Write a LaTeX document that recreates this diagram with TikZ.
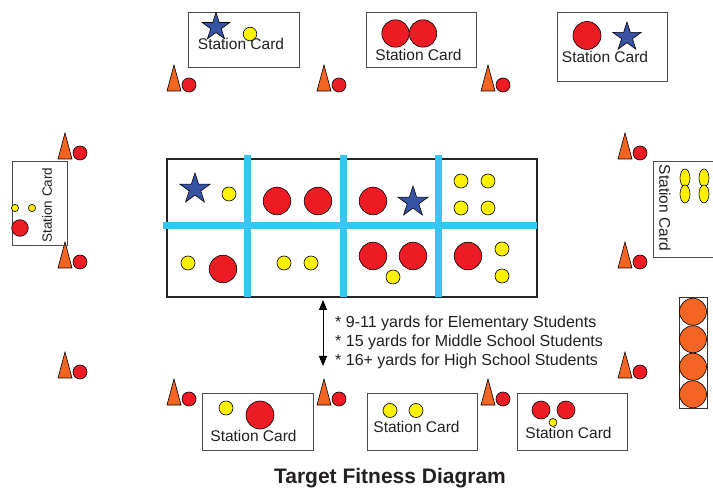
\documentclass[tikz,border=0pt]{standalone}
\usepackage{fontspec}
\setmainfont{Liberation Sans}
\usetikzlibrary{shapes.geometric,arrows.meta}
\definecolor{cred}{RGB}{237,28,36}
\definecolor{cyel}{RGB}{255,242,0}
\definecolor{corange}{RGB}{242,101,34}
\definecolor{cstar}{RGB}{57,83,164}
\definecolor{cblue}{RGB}{53,198,244}
\definecolor{ctext}{RGB}{35,31,32}
\tikzset{
  redc/.style={draw=black, line width=0.6pt, fill=cred},
  yelc/.style={draw=black, line width=0.6pt, fill=cyel},
  orc/.style={draw=black, line width=0.6pt, fill=corange},
  starnode/.style={star, star points=5, star point ratio=2.618, draw=black, line width=0.6pt, fill=cstar, inner sep=0pt},
  card/.style={draw=black!70, line width=1pt},
  field/.style={draw=black!85, line width=1.2pt},
  lane/.style={draw=cblue, line width=7pt},
  lbl/.style={font=\fontsize{15.5}{18}\selectfont, text=ctext, inner sep=0pt},
  note/.style={lbl, font=\fontsize{16}{18}\selectfont, anchor=base west},
  cone/.pic={\draw[orc] (-7,0) -- (7,0) -- (0,-26) -- cycle;
             \draw[redc] (15,-6) circle[radius=7pt];}
}
\begin{document}
\begin{tikzpicture}[x=1pt,y=-1pt]
\useasboundingbox[fill=white] (0,0) rectangle (713,489);

% ---- cones with red markers
\foreach \cx/\cy in {174/91,324/91,488/91,65/159,65/268,625/159,625/268,65/378,625/378,174/405,324/405,488/405}
  \pic at (\cx,\cy) {cone};

% ---- top station cards
\draw[card] (188,13) rectangle (299,68);
\node[starnode, minimum size=29pt] (s1) at (216,27) {};
\draw[yelc] (250,34) circle[radius=6.8pt];
\node[lbl, anchor=base] (t1) at (241,50) {Station Card};

\draw[card] (366,13) rectangle (476,68);
\draw[redc] (395.5,33.5) circle[radius=13.7pt];
\draw[redc] (423,33.5) circle[radius=13.7pt];
\node[lbl, anchor=base] (t2) at (418.5,61) {Station Card};

\draw[card] (557,13) rectangle (667,82);
\draw[redc] (587,35.5) circle[radius=14pt];
\node[starnode, minimum size=30pt] (s2) at (627,37) {};
\node[lbl, anchor=base] (t3) at (605,63) {Station Card};

% ---- left card
\draw[card] (12,162) rectangle (67,246);
\draw[yelc] (15,208) circle[radius=3.6pt];
\draw[yelc] (32,208) circle[radius=3.6pt];
\draw[redc] (20,228) circle[radius=8.3pt];
\node[lbl, font=\fontsize{13.5}{16}\selectfont, rotate=90] (t4) at (47,205) {Station Card};

% ---- right card
\draw[card] (653,162) rectangle (716,258);
\foreach \ex in {685,704}{
  \draw[yelc] (\ex,178) ellipse[x radius=5pt, y radius=9pt];
  \draw[yelc] (\ex,194) ellipse[x radius=5pt, y radius=9pt];
}
\node[lbl, rotate=-90] (t5) at (665,208) {Station Card};

% ---- orange ball stack
\draw[card, draw=black!80] (679,298) rectangle (707,408);
\foreach \oy in {311.75,339.25,366.75,394.25}
  \draw[orc] (693,\oy) circle[radius=13.5pt];

% ---- main field
\draw[field] (167,159) rectangle (537,297);
\draw[lane] (163,226) -- (537,226);
\foreach \lx in {247,343,438}
  \draw[lane] (\lx,155) -- (\lx,297);

% row 1
\node[starnode, minimum size=32pt] (s3) at (195,189) {};
\draw[yelc] (229,194) circle[radius=7pt];
\draw[redc] (277,201) circle[radius=13.8pt];
\draw[redc] (318,201) circle[radius=13.8pt];
\draw[redc] (373,201) circle[radius=13.8pt];
\node[starnode, minimum size=32pt] (s4) at (413,202) {};
\foreach \yx/\yy in {461/181,488/181,461/208,488/208}
  \draw[yelc] (\yx,\yy) circle[radius=7pt];
% row 2
\draw[yelc] (188,263) circle[radius=7pt];
\draw[redc] (223,269) circle[radius=13.8pt];
\draw[yelc] (284,263) circle[radius=7pt];
\draw[yelc] (311,263) circle[radius=7pt];
\draw[redc] (373,256) circle[radius=13.8pt];
\draw[redc] (413,256) circle[radius=13.8pt];
\draw[yelc] (393,277) circle[radius=7pt];
\draw[redc] (468,256) circle[radius=13.8pt];
\draw[yelc] (502,249) circle[radius=7pt];
\draw[yelc] (502,276) circle[radius=7pt];

% ---- distance arrow and notes
\coordinate (atop) at (323,300);
\coordinate (abot) at (323,366);
\draw[line width=1pt, {Triangle[width=8pt,length=10pt]}-{Triangle[width=8pt,length=10pt]}] (atop) -- (abot);
\node[note] (n1) at (335,328) {* 9-11 yards for Elementary Students};
\node[note] (n2) at (335,347) {* 15 yards for Middle School Students};
\node[note] (n3) at (335,366) {* 16+ yards for High School Students};

% ---- bottom station cards
\draw[card] (202,394) rectangle (313,450);
\draw[yelc] (226,408) circle[radius=7pt];
\draw[redc] (260,415) circle[radius=14pt];
\node[lbl, anchor=base] (t6) at (253.5,441) {Station Card};

\draw[card] (367,394) rectangle (477,450);
\draw[yelc] (390,410.5) circle[radius=7pt];
\draw[yelc] (416,410.5) circle[radius=7pt];
\node[lbl, anchor=base] (t7) at (416.5,432) {Station Card};

\draw[card] (517,394) rectangle (627,450);
\draw[redc] (541,410) circle[radius=9pt];
\draw[redc] (566,410) circle[radius=9pt];
\draw[yelc] (553,422.5) circle[radius=4pt];
\node[lbl, anchor=base] (t8) at (568.5,438) {Station Card};

% ---- title
\node[lbl, font=\bfseries\fontsize{21}{24}\selectfont, anchor=base] (title) at (390,483.5) {Target Fitness Diagram};
\end{tikzpicture}
\end{document}
